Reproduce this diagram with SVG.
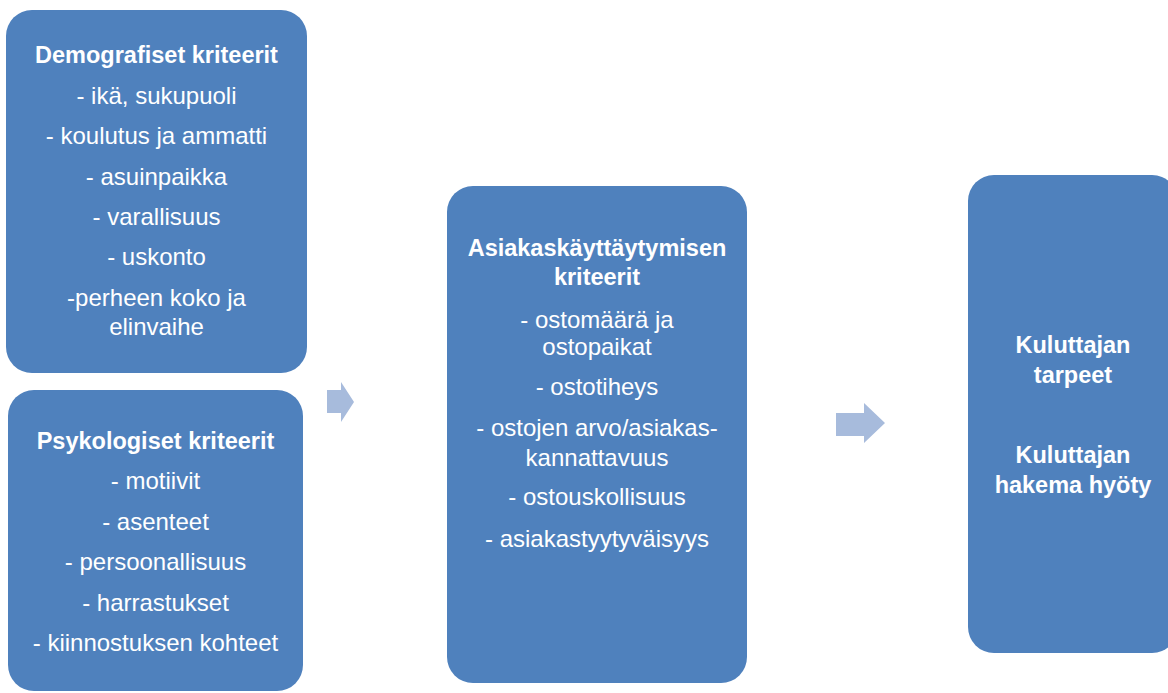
<svg xmlns="http://www.w3.org/2000/svg" width="1168" height="693" viewBox="0 0 1168 693">
<style>
.box{fill:#4F81BD}
.arr{fill:#A7BBDC}
text{font-family:"Liberation Sans",Arial,sans-serif;font-size:24px;fill:#fff;text-anchor:middle}
.b{font-weight:bold;font-size:23.5px}
</style>
<rect width="1168" height="693" fill="#fff"/>
<g id="demografiset">
<rect class="box" x="6" y="10" width="301" height="363" rx="26"/>
<text class="b" x="156.5" y="63">Demografiset kriteerit</text>
<text x="156.5" y="104">- ikä, sukupuoli</text>
<text x="156.5" y="144">- koulutus ja ammatti</text>
<text x="156.5" y="185">- asuinpaikka</text>
<text x="156.5" y="225">- varallisuus</text>
<text x="156.5" y="265">- uskonto</text>
<text x="156.5" y="306">-perheen koko ja</text>
<text x="156.5" y="335">elinvaihe</text>
</g>
<g id="psykologiset">
<rect class="box" x="8" y="390" width="295" height="301" rx="26"/>
<text class="b" x="155.5" y="449">Psykologiset kriteerit</text>
<text x="155.5" y="489">- motiivit</text>
<text x="155.5" y="530">- asenteet</text>
<text x="155.5" y="570">- persoonallisuus</text>
<text x="155.5" y="611">- harrastukset</text>
<text x="155.5" y="651">- kiinnostuksen kohteet</text>
</g>
<g id="asiakaskayttaytyminen">
<rect class="box" x="447" y="186" width="300" height="497" rx="26"/>
<text class="b" x="597" y="256">Asiakaskäyttäytymisen</text>
<text class="b" x="597" y="285">kriteerit</text>
<text x="597" y="328">- ostomäärä ja</text>
<text x="597" y="355">ostopaikat</text>
<text x="597" y="395">- ostotiheys</text>
<text x="597" y="436">- ostojen arvo/asiakas-</text>
<text x="597" y="466">kannattavuus</text>
<text x="597" y="505">- ostouskollisuus</text>
<text x="597" y="547">- asiakastyytyväisyys</text>
</g>
<g id="kuluttaja">
<rect class="box" x="968" y="175" width="210" height="478" rx="26"/>
<text class="b" x="1073" y="353">Kuluttajan</text>
<text class="b" x="1073" y="383">tarpeet</text>
<text class="b" x="1073" y="463">Kuluttajan</text>
<text class="b" x="1073" y="493">hakema hyöty</text>
</g>
<g id="connectors">
<polygon class="arr" points="327,390 341,390 341,382 354,402 341,422 341,413 327,413"/>
<polygon class="arr" points="836,413 864,413 864,403 885,423 864,443 864,436 836,436"/>
</g>
</svg>
